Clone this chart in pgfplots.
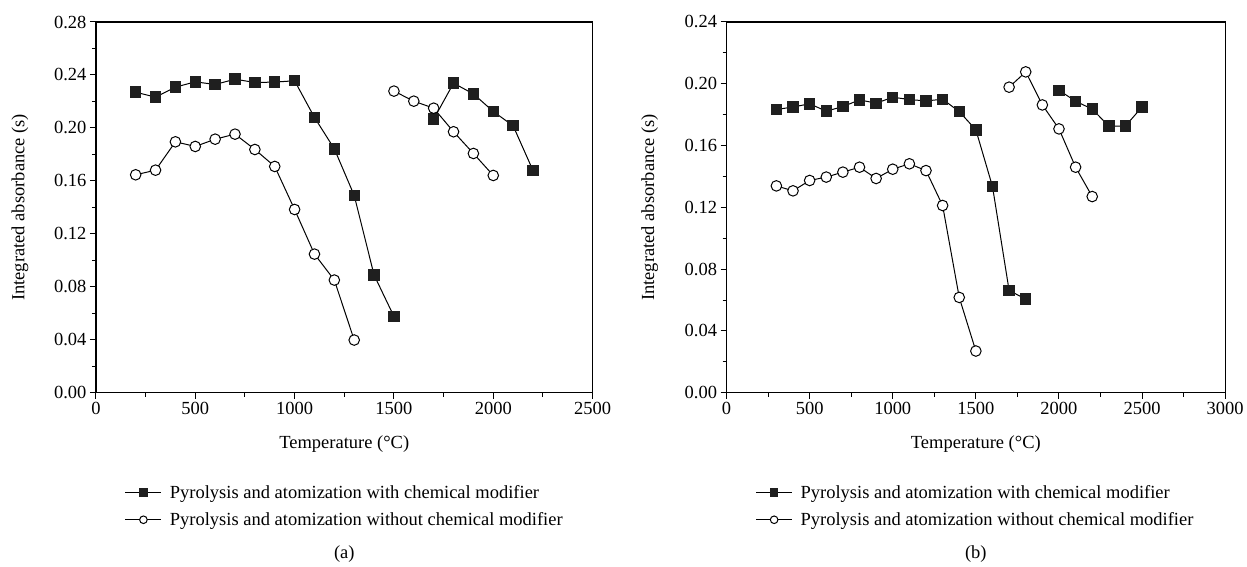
\documentclass[border=0pt]{standalone}
\usepackage{fontspec}
\setmainfont{Liberation Serif}
\usepackage{pgfplots}
\pgfplotsset{compat=1.18}
\pgfplotsset{
 myaxis/.style={
  scale only axis, height=371bp,
  axis line style={line width=1.3bp},
  tick align=outside, xtick pos=bottom, ytick pos=left,
  major tick length=6bp, minor tick length=4bp,
  every tick/.style={black, line width=1bp},
  minor x tick num=1, minor y tick num=1,
  ymin=0, xmin=0,
  yticklabel style={/pgf/number format/.cd, fixed, fixed zerofill, precision=2},
  /pgf/number format/assume math mode=true,
  /pgf/number format/1000 sep={},
  unbounded coords=jump,
  xlabel={Temperature (\textdegree C)},
  ylabel={Integrated absorbance (s)},
  xlabel style={at={(axis description cs:0.5,-0.138)}, anchor=center},
  legend style={draw=none, fill=none, cells={anchor=west}, row sep=9bp, anchor=north west, inner sep=0pt, column sep=6bp},
  legend image code/.code={\draw[#1, mark repeat=2, mark phase=2, mark size=3.8bp] plot coordinates {(0bp,0bp) (18bp,0bp) (36bp,0bp)};},
  clip=false,
 },
 sq/.style={black, line width=1bp, mark=square*, mark size=5.2bp, mark options={fill=black!88, draw=black!88}},
 ci/.style={black, line width=1bp, mark=*, mark size=5.3bp, mark options={fill=white, draw=black}},
}
\begin{document}
\begin{tikzpicture}[every node/.append style={font=\fontsize{18.5bp}{22bp}\selectfont}]
\path (0,0) rectangle (1247bp,567bp);
\begin{axis}[myaxis, at={(96bp,174bp)}, anchor=south west, width=497bp,
  xmax=2500, ymax=0.28, xtick={0,500,...,2500}, ytick={0,0.04,...,0.28},
  ylabel style={at={(axis description cs:-0.153,0.5)}, anchor=center},
  legend style={at={(axis description cs:0.058,-0.243)}}]
\addplot[sq] table {
x y
200 0.2270
300 0.2232
400 0.2308
500 0.2348
600 0.2328
700 0.2368
800 0.2343
900 0.2346
1000 0.2356
1100 0.2079
1200 0.1842
1300 0.1490
1400 0.0889
1500 0.0576
1600 nan
1700 0.2066
1800 0.2338
1900 0.2257
2000 0.2124
2100 0.2016
2200 0.1678
};
\addlegendentry{Pyrolysis and atomization with chemical modifier}
\addplot[ci] table {
x y
200 0.1646
300 0.1681
400 0.1895
500 0.1860
600 0.1915
700 0.1953
800 0.1837
900 0.1709
1000 0.1384
1100 0.1047
1200 0.0851
1300 0.0398
1400 nan
1500 0.2278
1600 0.2202
1700 0.2149
1800 0.1971
1900 0.1807
2000 0.1641
};
\addlegendentry{Pyrolysis and atomization without chemical modifier}
\node at (axis description cs:0.5,-0.435) {(a)};
\end{axis}
\begin{axis}[myaxis, at={(727bp,174bp)}, anchor=south west, width=499bp,
  xmax=3000, ymax=0.24, xtick={0,500,...,3000}, ytick={0,0.04,...,0.24},
  ylabel style={at={(axis description cs:-0.154,0.5)}, anchor=center},
  legend style={at={(axis description cs:0.058,-0.243)}}]
\addplot[sq] table {
x y
300 0.1833
400 0.1850
500 0.1870
600 0.1823
700 0.1852
800 0.1896
900 0.1874
1000 0.1913
1100 0.1898
1200 0.1889
1300 0.1900
1400 0.1820
1500 0.1702
1600 0.1335
1700 0.0662
1800 0.0606
1900 nan
2000 0.1958
2100 0.1887
2200 0.1836
2300 0.1726
2400 0.1727
2500 0.1850
};
\addlegendentry{Pyrolysis and atomization with chemical modifier}
\addplot[ci] table {
x y
300 0.1339
400 0.1307
500 0.1374
600 0.1396
700 0.1428
800 0.1460
900 0.1387
1000 0.1447
1100 0.1482
1200 0.1438
1300 0.1212
1400 0.0617
1500 0.0270
1600 nan
1700 0.1978
1800 0.2077
1900 0.1863
2000 0.1708
2100 0.1460
2200 0.1270
};
\addlegendentry{Pyrolysis and atomization without chemical modifier}
\node at (axis description cs:0.5,-0.435) {(b)};
\end{axis}
\end{tikzpicture}
\end{document}
